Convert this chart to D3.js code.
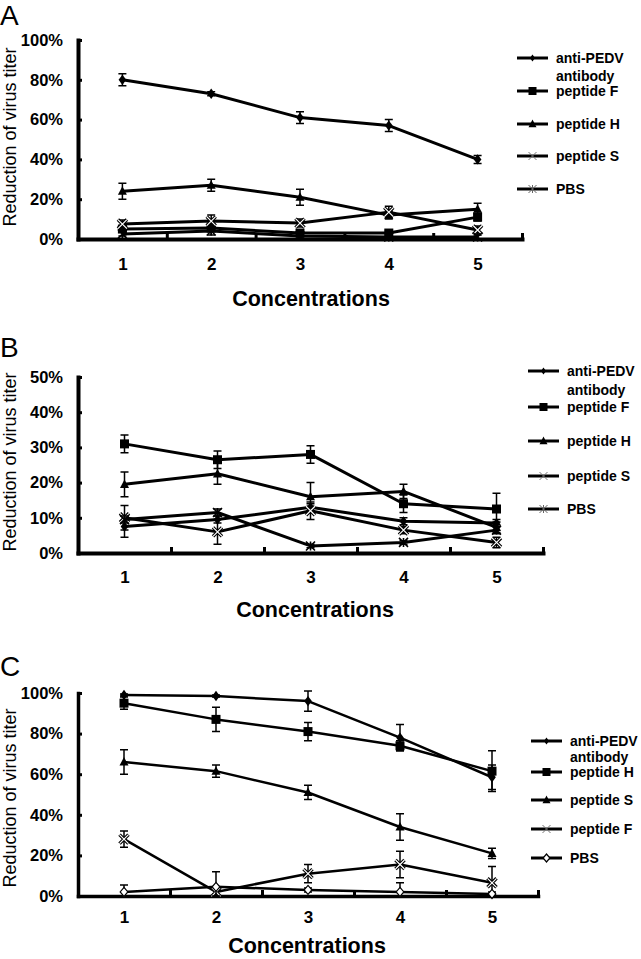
<!DOCTYPE html>
<html><head><meta charset="utf-8">
<script src="https://cdn.jsdelivr.net/npm/d3@7/dist/d3.min.js"></script>
<style>
html,body{margin:0;padding:0;background:#fff;}
svg{display:block;}
text{font-family:Arial,"Liberation Sans",sans-serif;fill:#000;}
</style></head>
<body>
<svg id="chart" width="641" height="959"></svg>
<script>
// ---------- DATA ----------
const categories = [1, 2, 3, 4, 5];
const namesAB = ["anti-PEDV antibody", "peptide F", "peptide H", "peptide S", "PBS"];
const namesC  = ["anti-PEDV antibody", "peptide H", "peptide S", "peptide F", "PBS"];
const yTicks100 = [0, 20, 40, 60, 80, 100];
const yTicks50  = [0, 10, 20, 30, 40, 50];

// Panel A
const aAnti = [80, 73, 61, 57, 40];     const aAntiErr = [3, 1, 3, 3, 2];
const aF    = [5, 5.5, 3, 3, 11];      const aFErr    = [1, 1, 1, 1, 2];
const aH    = [24, 27, 21, 12, 15];     const aHErr    = [4, 3, 4, 2, 3];
const aS    = [7.5, 9, 8, 13.5, 4.5];   const aSErr    = [2, 3, 2, 3, 2];
const aPBS  = [2.5, 4, 1.5, 1, 1];      const aPBSErr  = [1, 2, 1, 1, 1];

// Panel B
const bAnti = [7.5, 9.5, 13, 9, 8.5];   const bAntiErr = [3, 1, 1, 1, 1];
const bF    = [31, 26.5, 28, 14, 12.5]; const bFErr    = [2.5, 2.5, 2.5, 2.5, 4.5];
const bH    = [19.5, 22.5, 16, 17.5, 7.3]; const bHErr = [3.5, 3, 4, 2, 1.5];
const bS    = [10, 6, 12, 6.5, 3];      const bSErr    = [3.5, 3.5, 2.5, 1, 1.5];
const bPBS  = [9.5, 11.5, 2, 3, 6.5];   const bPBSErr  = [1, 1, 0.5, 0.5, 1];

// Panel C
const cAnti = [99, 98.5, 96, 78, 58.5]; const cAntiErr = [0.5, 0.5, 5, 6.5, 6];
const cH    = [95, 87, 81, 74, 61.5];   const cHErr    = [3, 6, 4.5, 2.5, 10];
const cS    = [66, 61.5, 51, 34, 21];   const cSErr    = [6, 3, 3.5, 6.5, 2.5];
const cF    = [28, 2, 11, 15.5, 6.5];   const cFErr    = [4, 1, 4.5, 6.5, 8];
const cPBS  = [2, 4.5, 3, 2, 1];        const cPBSErr  = [3.4, 7.5, 1, 4.5, 1];

const markerTypes = ["diamond", "square", "triangle", "x", "asterisk"];
const markerTypesC = ["diamond", "square", "triangle", "x", "opendiamond"];

// ---------- LAYOUT ----------
const panels = [
  { letter: "A", names: namesAB, markers: markerTypes, yMax: 100, yTicks: yTicks100,
    vals: [aAnti, aF, aH, aS, aPBS], errs: [aAntiErr, aFErr, aHErr, aSErr, aPBSErr],
    x0: 78, x1: 522, yTop: 40, yBot: 239, letterY: 25, xLabPad: 19, titleY: 306, titleX: 311, yTitleCY: 137,
    legX: 517, legY: [58, 91, 124, 156, 189], legGap: 18, axisW: 4, lineW: 3 },
  { letter: "B", names: namesAB, markers: markerTypes, yMax: 50, yTicks: yTicks50,
    vals: [bAnti, bF, bH, bS, bPBS], errs: [bAntiErr, bFErr, bHErr, bSErr, bPBSErr],
    x0: 78, x1: 543, yTop: 377, yBot: 553, letterY: 357, xLabPad: 18, titleY: 617, titleX: 315, yTitleCY: 462,
    legX: 528, legY: [371, 407, 441, 476, 509], legGap: 19, axisW: 4, lineW: 3 },
  { letter: "C", names: namesC, markers: markerTypesC, yMax: 100, yTicks: yTicks100,
    vals: [cAnti, cH, cS, cF, cPBS], errs: [cAntiErr, cHErr, cSErr, cFErr, cPBSErr],
    x0: 78, x1: 538, yTop: 693, yBot: 896, letterY: 676, xLabPad: 15, titleY: 953, titleX: 307, yTitleCY: 798,
    legX: 531, legY: [741, 772, 800, 829, 858], legGap: 15.5, axisW: 3.5, lineW: 2.5 }
];

const svg = d3.select("#chart");

function marker(g, type, cx, cy, s, legend) {
  const h = s / 2;
  if (type === "diamond") {
    g.append("path").attr("d", `M${cx},${cy - h * 1.15}L${cx + h * 0.85},${cy}L${cx},${cy + h * 1.15}L${cx - h * 0.85},${cy}Z`)
      .attr("fill", "#000");
  } else if (type === "opendiamond") {
    g.append("path").attr("d", `M${cx},${cy - h}L${cx + h * 0.85},${cy}L${cx},${cy + h}L${cx - h * 0.85},${cy}Z`)
      .attr("fill", "#fff").attr("stroke", "#000").attr("stroke-width", 1.2);
  } else if (type === "square") {
    g.append("rect").attr("x", cx - h).attr("y", cy - h).attr("width", s).attr("height", s).attr("fill", "#000");
  } else if (type === "triangle") {
    g.append("path").attr("d", `M${cx},${cy - h * 1.1}L${cx + h},${cy + h * 0.8}L${cx - h},${cy + h * 0.8}Z`).attr("fill", "#000");
  } else if (type === "x") {
    const d = `M${cx - h},${cy - h}L${cx + h},${cy + h}M${cx + h},${cy - h}L${cx - h},${cy + h}`;
    if (legend) {
      g.append("path").attr("d", d).attr("stroke", "#777").attr("stroke-width", 1).attr("fill", "none");
    } else {
      g.append("path").attr("d", d).attr("stroke", "#000").attr("stroke-width", 3.4).attr("fill", "none");
      g.append("path").attr("d", d).attr("stroke", "#fff").attr("stroke-width", 1.2).attr("fill", "none");
    }
  } else if (type === "asterisk") {
    const d = `M${cx - h},${cy - h}L${cx + h},${cy + h}M${cx + h},${cy - h}L${cx - h},${cy + h}M${cx},${cy - h}L${cx},${cy + h}`;
    g.append("path").attr("d", d).attr("stroke", legend ? "#666" : "#000").attr("stroke-width", legend ? 1 : 1.6).attr("fill", "none");
  }
}

panels.forEach(p => {
  const g = svg.append("g");
  const x = d3.scaleLinear().domain([0.5, 5.5]).range([p.x0, p.x1]);
  const y = d3.scaleLinear().domain([0, p.yMax]).range([p.yBot, p.yTop]);

  // panel letter
  g.append("text").attr("x", 0).attr("y", p.letterY).attr("font-size", 28).text(p.letter);

  // y axis
  const ya = g.append("g").attr("transform", `translate(${p.x0},0)`)
    .call(d3.axisLeft(y).tickValues(p.yTicks).tickFormat(d => d + "%").tickSize(-4).tickSizeOuter(0).tickPadding(15));
  ya.select(".domain").attr("stroke-width", p.axisW).attr("stroke-linecap", "square");
  ya.selectAll(".tick line").attr("stroke-width", 3);
  ya.selectAll(".tick text").attr("font-size", 16.5).attr("font-weight", "bold")
    .attr("font-family", "Arial, 'Liberation Sans', sans-serif");

  // x axis labels
  const xa = g.append("g").attr("transform", `translate(0,${p.yBot})`)
    .call(d3.axisBottom(x).tickValues(categories).tickSize(0).tickPadding(p.xLabPad).tickFormat(d3.format("d")));
  xa.select(".domain").attr("stroke-width", p.axisW).attr("stroke-linecap", "square");
  xa.selectAll(".tick text").attr("font-size", 17).attr("font-weight", "bold")
    .attr("font-family", "Arial, 'Liberation Sans', sans-serif");
  // x minor ticks between categories
  const xm = g.append("g").attr("transform", `translate(0,${p.yBot})`)
    .call(d3.axisBottom(x).tickValues([1.5, 2.5, 3.5, 4.5, 5.5]).tickSize(-6).tickFormat(""));
  xm.select(".domain").remove();
  xm.selectAll(".tick line").attr("stroke-width", 3);

  // axis titles
  g.append("text").attr("x", p.titleX).attr("y", p.titleY).attr("text-anchor", "middle")
    .attr("font-size", 21.5).attr("font-weight", "bold").text("Concentrations");
  g.append("text").attr("transform", `translate(16,${p.yTitleCY}) rotate(-90)`).attr("text-anchor", "middle")
    .attr("font-size", 18).text("Reduction of virus titer");

  // series
  const line = d3.line().x((d, i) => x(categories[i])).y(d => y(d));
  p.vals.forEach((vals, si) => {
    const sg = g.append("g");
    sg.append("path").attr("d", line(vals)).attr("fill", "none").attr("stroke", "#000")
      .attr("stroke-width", p.lineW).attr("stroke-linejoin", "round");
    vals.forEach((v, i) => {
      const e = p.errs[si][i];
      const cx = x(categories[i]);
      const yt = y(v + e), yb = y(Math.max(v - e, 0));
      sg.append("path").attr("d", `M${cx},${yt}V${yb}M${cx - 4},${yt}H${cx + 4}M${cx - 4},${yb}H${cx + 4}`)
        .attr("stroke", "#000").attr("stroke-width", 1.5).attr("fill", "none");
    });
    vals.forEach((v, i) => marker(sg, p.markers[si], x(categories[i]), y(v), 9, false));
  });

  // legend
  p.names.forEach((name, si) => {
    const ly = p.legY[si];
    const lg = g.append("g");
    lg.append("line").attr("x1", p.legX).attr("x2", p.legX + 31).attr("y1", ly).attr("y2", ly)
      .attr("stroke", "#000").attr("stroke-width", 3);
    const mt = p.markers[si];
    const ms = mt === "diamond" ? 6 : 8;
    marker(lg, mt, p.legX + 15.5, ly, ms, true);
    if (name === "anti-PEDV antibody") {
      lg.append("text").attr("x", p.legX + 39).attr("y", ly + 5).attr("font-size", 14).attr("font-weight", "bold").text("anti-PEDV");
      lg.append("text").attr("x", p.legX + 39).attr("y", ly + 5 + p.legGap).attr("font-size", 14).attr("font-weight", "bold").text("antibody");
    } else {
      lg.append("text").attr("x", p.legX + 39).attr("y", ly + 5).attr("font-size", 14).attr("font-weight", "bold").text(name);
    }
  });
});
</script>
</body></html>
